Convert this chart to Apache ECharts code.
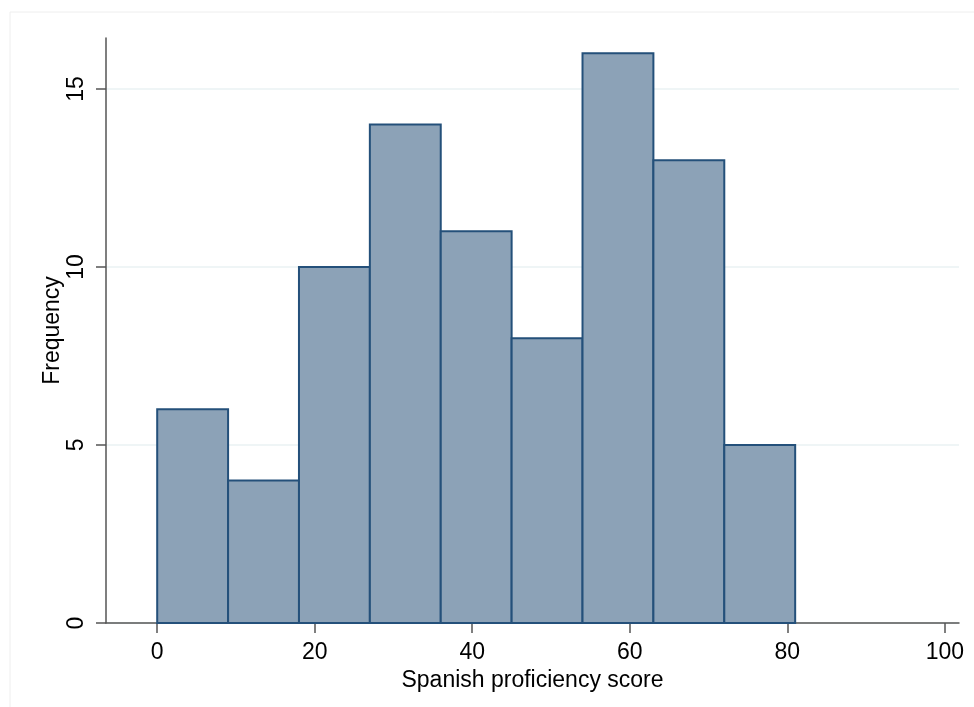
<!DOCTYPE html>
<html>
<head>
<meta charset="utf-8">
<script src="https://cdn.jsdelivr.net/npm/echarts@6/dist/echarts.min.js"></script>
<style>
html,body{margin:0;padding:0;background:#fff;}
#c{width:974px;height:707px;}
</style>
</head>
<body>
<div id="c"></div>
<script>
const binStarts = [0, 9, 18, 27, 36, 45, 54, 63, 72];
const binWidth = 9;
const frequencies = [6, 4, 10, 14, 11, 8, 16, 13, 5];
const xTicks = [0, 20, 40, 60, 80, 100];
const yTicks = [0, 5, 10, 15];

const chart = echarts.init(document.getElementById('c'), null, {renderer: 'canvas'});
const font = '"Liberation Sans", Arial, sans-serif';
const data = binStarts.map((s, i) => [s, s + binWidth, frequencies[i]]);

chart.setOption({
  backgroundColor: '#ffffff',
  animation: false,
  graphic: [{
    type: 'rect', shape: {x: 10, y: 12, width: 1000, height: 1000},
    style: {fill: 'none', stroke: '#eeeeee', lineWidth: 1}, silent: true, z: -10
  }],
  grid: {left: 106, right: 15, top: 38, bottom: 84, containLabel: false},
  xAxis: {
    type: 'value', min: -6.5, max: 101.8,
    name: 'Spanish proficiency score', nameLocation: 'middle', nameGap: 46,
    nameMoveOverlap: false,
    nameTextStyle: {fontFamily: font, fontSize: 23, color: '#000'},
    axisLine: {show: true, onZero: false, lineStyle: {color: '#555', width: 1.5}},
    axisTick: {show: true, customValues: xTicks, length: 10, lineStyle: {color: '#555', width: 1.5}},
    axisLabel: {customValues: xTicks, fontFamily: font, fontSize: 23, color: '#000', margin: 18, showMinLabel: true, showMaxLabel: true},
    splitLine: {show: false}
  },
  yAxis: {
    type: 'value', min: 0, max: 16.43,
    name: 'Frequency', nameLocation: 'middle', nameGap: 42, nameRotate: 90,
    nameMoveOverlap: false,
    nameTextStyle: {fontFamily: font, fontSize: 23, color: '#000'},
    axisLine: {show: true, onZero: false, lineStyle: {color: '#555', width: 1.5}},
    axisTick: {show: true, customValues: yTicks, length: 10, lineStyle: {color: '#555', width: 1.5}},
    axisLabel: {customValues: yTicks, rotate: 90, fontFamily: font, fontSize: 23, color: '#000', margin: 18, showMinLabel: true},
    splitLine: {show: true, lineStyle: {color: '#eaf2f3', width: 1.5}}
  },
  series: [{
    type: 'custom',
    data: data,
    encode: {x: [0, 1], y: 2},
    renderItem: function (params, api) {
      const p0 = api.coord([api.value(0), api.value(2)]);
      const p1 = api.coord([api.value(1), 0]);
      return {
        type: 'rect',
        shape: {x: p0[0], y: p0[1], width: p1[0] - p0[0], height: p1[1] - p0[1]},
        style: {fill: '#8ca2b7', stroke: '#24507a', lineWidth: 2}
      };
    }
  }]
});
</script>
</body>
</html>
